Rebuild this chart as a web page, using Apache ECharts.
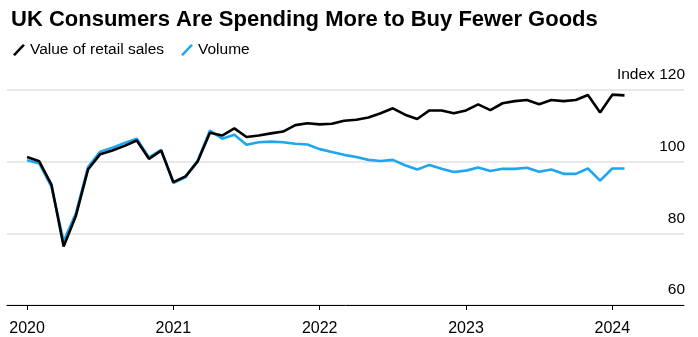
<!DOCTYPE html>
<html>
<head>
<meta charset="utf-8">
<script src="https://cdn.jsdelivr.net/npm/echarts@6/dist/echarts.min.js"></script>
<style>
html,body{margin:0;padding:0;background:#fff;}
#chart{width:698px;height:337px;}
</style>
</head>
<body>
<div id="chart"></div>
<script>
// Monthly observations, Jan 2020 – Feb 2024
var months = [
  '2020-01','2020-02','2020-03','2020-04','2020-05','2020-06','2020-07','2020-08','2020-09','2020-10','2020-11','2020-12',
  '2021-01','2021-02','2021-03','2021-04','2021-05','2021-06','2021-07','2021-08','2021-09','2021-10','2021-11','2021-12',
  '2022-01','2022-02','2022-03','2022-04','2022-05','2022-06','2022-07','2022-08','2022-09','2022-10','2022-11','2022-12',
  '2023-01','2023-02','2023-03','2023-04','2023-05','2023-06','2023-07','2023-08','2023-09','2023-10','2023-11','2023-12',
  '2024-01','2024-02'
];
var valueOfRetailSales = [
  101.3, 100.1, 93.6, 76.3, 84.8, 97.8, 102.1, 103.1, 104.4, 105.9, 100.8, 103.1,
  94.3, 95.9, 100.1, 108.1, 107.3, 109.3, 106.9, 107.3, 107.9, 108.4, 110.2, 110.7,
  110.4, 110.6, 111.4, 111.7, 112.3, 113.5, 114.9, 113.1, 111.9, 114.3, 114.3, 113.5,
  114.3, 116.0, 114.4, 116.3, 116.9, 117.2, 116.0, 117.2, 116.9, 117.2, 118.6, 113.7,
  118.7, 118.5
];
var volume = [
  100.4, 99.5, 93.0, 77.8, 85.5, 98.5, 102.8, 103.9, 105.2, 106.4, 101.2, 103.3,
  94.0, 95.7, 100.3, 108.7, 106.4, 107.5, 104.7, 105.4, 105.6, 105.4, 105.0, 104.8,
  103.5, 102.7, 101.9, 101.3, 100.5, 100.2, 100.5, 99.0, 97.8, 99.1, 98.0, 97.1,
  97.5, 98.4, 97.4, 98.0, 98.0, 98.3, 97.2, 97.8, 96.6, 96.6, 98.1, 94.7,
  98.1, 98.1
];
var yearTicks = [2020, 2021, 2022, 2023, 2024];
var yTicks = [60, 80, 100, 120];

function toYear(s) {
  var p = s.split('-');
  return Number(p[0]) + (Number(p[1]) - 1) / 12;
}
function pairs(vals) {
  return months.map(function (m, i) { return [toYear(m), vals[i]]; });
}

var FONT = '"Liberation Sans", Arial, sans-serif';
var slash = 'path://M0,10.5 L10,0 L12,1.6 L2,12.1 Z';

var chart = echarts.init(document.getElementById('chart'), null, { renderer: 'canvas' });
chart.setOption({
  animation: false,
  backgroundColor: '#fff',
  title: {
    text: 'UK Consumers Are Spending More to Buy Fewer Goods',
    left: 6, top: 4,
    textStyle: { fontFamily: FONT, fontWeight: 'bold', fontSize: 22, color: '#000' }
  },
  legend: {
    left: 8, top: 37,
    itemWidth: 12, itemHeight: 12, itemGap: 17,
    data: [
      { name: 'Value of retail sales', icon: slash },
      { name: 'Volume', icon: slash }
    ],
    textStyle: { fontFamily: FONT, fontSize: 15.5, color: '#000' }
  },
  grid: { left: 7, right: 14, top: 90, bottom: 32 },
  xAxis: {
    type: 'value',
    min: 2019.863, max: 2024.49,
    splitLine: { show: false },
    axisLine: { show: true, lineStyle: { color: '#000', width: 1 } },
    axisTick: { show: true, customValues: yearTicks, length: 5, lineStyle: { color: '#000', width: 1 } },
    axisLabel: {
      customValues: yearTicks, margin: 16,
      fontFamily: FONT, fontSize: 16, color: '#000',
      formatter: function (v) { return String(Math.round(v)); }
    }
  },
  yAxis: {
    type: 'value',
    position: 'right',
    min: 60, max: 120, interval: 20,
    axisLine: { show: false },
    axisTick: { show: false },
    splitLine: { show: true, lineStyle: { color: '#e0e0e0', width: 1.5 } },
    axisLabel: {
      inside: true, margin: -1,
      verticalAlign: 'bottom',
      padding: [0, 0, 7, 0],
      fontFamily: FONT, fontSize: 15.5, color: '#000',
      formatter: function (v) { return v === 120 ? 'Index 120' : String(v); }
    }
  },
  series: [
    {
      name: 'Volume', type: 'line', data: pairs(volume),
      showSymbol: false, symbol: 'none',
      color: '#1ea7ef',
      lineStyle: { color: '#1ea7ef', width: 2.6 },
      z: 2
    },
    {
      name: 'Value of retail sales', type: 'line', data: pairs(valueOfRetailSales),
      showSymbol: false, symbol: 'none',
      color: '#000',
      lineStyle: { color: '#000', width: 2.6 },
      z: 3
    }
  ]
});
</script>
</body>
</html>
